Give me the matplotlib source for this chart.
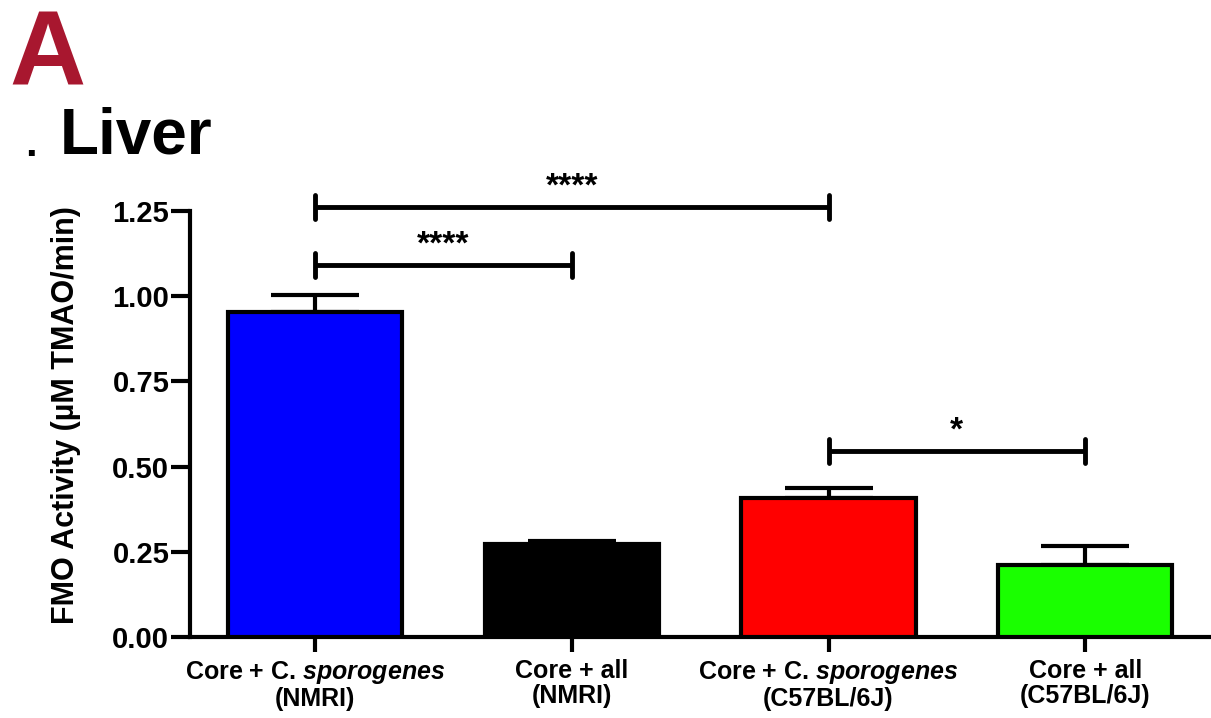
"""
FMO activity in liver, bar chart with SEM and significance brackets
"""

import numpy as np
import matplotlib as mpl
mpl.use("Agg")
import matplotlib.pyplot as plt

plt.rcParams["font.family"] = ["Liberation Sans", "DejaVu Sans"]
plt.rcParams["font.weight"] = "bold"
plt.rcParams["mathtext.fontset"] = "custom"
plt.rcParams["mathtext.it"] = "Liberation Sans:italic:bold"
plt.rcParams["mathtext.rm"] = "Liberation Sans:bold"

groups = [
    "Core + C. $\\it{sporogenes}$\n(NMRI)",
    "Core + all\n(NMRI)",
    "Core + C. $\\it{sporogenes}$\n(C57BL/6J)",
    "Core + all\n(C57BL/6J)",
]
activity = [0.954, 0.273, 0.408, 0.211]
sem = [0.050, 0.009, 0.030, 0.056]
colors = ["#0000ff", "#000000", "#ff0000", "#1aff00"]

# significance brackets: (left group, right group, height, label)
brackets = [
    (0, 2, 1.262, "****"),
    (0, 1, 1.092, "****"),
    (2, 3, 0.546, "*"),
]

def main():
    fig = plt.figure(figsize=(12.11, 7.18), dpi=100)
    ax = fig.add_axes([0.157, 0.113, 0.843, 0.593])

    x = np.arange(len(groups))
    ax.bar(x, activity, width=0.68, color=colors, edgecolor="black",
           linewidth=3, zorder=3)
    ax.errorbar(x, activity, yerr=[np.zeros(len(sem)), sem], fmt="none",
                ecolor="black", elinewidth=3, capsize=32, capthick=3, zorder=2)

    for i, j, h, label in brackets:
        ax.plot([x[i], x[j]], [h, h], color="black", lw=3.5,
                solid_capstyle="butt", clip_on=False)
        for k in (i, j):
            ax.plot([x[k], x[k]], [h - 0.035, h + 0.035], color="black",
                    lw=3.5, solid_capstyle="round", clip_on=False)
        ax.text((x[i] + x[j]) / 2, h + 0.012, label, ha="center", va="bottom",
                fontsize=24, fontweight="bold", clip_on=False)

    ax.set_xlim(-0.487, 3.49)
    ax.set_ylim(0, 1.25)
    ax.set_yticks([0, 0.25, 0.5, 0.75, 1.0, 1.25])
    ax.set_yticklabels(["0.00", "0.25", "0.50", "0.75", "1.00", "1.25"])
    ax.set_xticks(x)
    ax.set_xticklabels(groups, fontsize=18, fontweight="bold", linespacing=1.05)
    ax.tick_params(axis="y", labelsize=21, width=3, length=14, pad=1)
    ax.tick_params(axis="x", width=3, length=11, pad=5)
    for side in ("top", "right"):
        ax.spines[side].set_visible(False)
    for side in ("left", "bottom"):
        ax.spines[side].set_linewidth(3)

    ax.set_ylabel("FMO Activity (µM TMAO/min)", fontsize=22, fontweight="bold")
    ax.yaxis.set_label_coords(-0.107, 0.52)

    fig.text(0.008, 0.988, "A", fontsize=76, fontweight="bold",
             color="#a8172f", va="top", ha="left")
    fig.text(0.049, 0.768, "Liver", fontsize=46, fontweight="bold",
             va="bottom", ha="left")
    fig.text(0.021, 0.77, ".", fontsize=30, fontweight="bold",
             va="bottom", ha="left")

    fig.savefig("out.png", dpi=100)

if __name__ == "__main__":
    main()
